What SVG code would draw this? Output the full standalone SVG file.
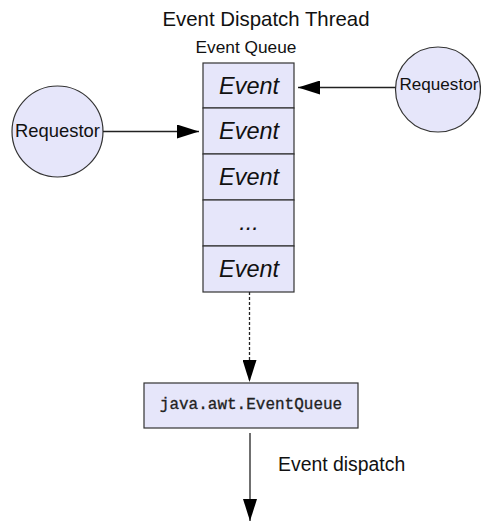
<svg xmlns="http://www.w3.org/2000/svg" width="481" height="521" viewBox="0 0 481 521">
  <style>
    .box { fill: #e6e6fa; stroke: #333; stroke-width: 1.2; }
    .lbl { font-family: "Liberation Sans", Arial, sans-serif; fill: #111; }
    .ev { font-family: "Liberation Sans", Arial, sans-serif; font-style: italic; font-size: 23.5px; fill: #111; text-anchor: middle; }
    .edge { stroke: #222; stroke-width: 1.3; fill: none; }
  </style>
  <defs>
    <marker id="arrow" viewBox="0 0 22 14" refX="22" refY="7" markerWidth="22" markerHeight="14" markerUnits="userSpaceOnUse" orient="auto">
      <path d="M0,0 L22,7 L0,14 Z" fill="#000"/>
    </marker>
  </defs>
  <rect width="481" height="521" fill="#fff"/>

  <text class="lbl" x="266" y="26" font-size="20.4" text-anchor="middle">Event Dispatch Thread</text>
  <text class="lbl" x="246" y="52.5" font-size="17.3" text-anchor="middle">Event Queue</text>

  <g id="event-queue">
    <rect class="box" x="203" y="63" width="91" height="45"/>
    <rect class="box" x="203" y="108" width="91" height="46"/>
    <rect class="box" x="203" y="154" width="91" height="46"/>
    <rect class="box" x="203" y="200" width="91" height="46"/>
    <rect class="box" x="203" y="246" width="91" height="46"/>
    <text class="ev" x="249" y="93.5">Event</text>
    <text class="ev" x="249" y="139">Event</text>
    <text class="ev" x="249" y="185">Event</text>
    <text class="ev" x="249" y="230">...</text>
    <text class="ev" x="249" y="277">Event</text>
  </g>

  <g id="requestor-left">
    <circle class="box" cx="57.5" cy="131.5" r="45.5"/>
    <text class="lbl" x="57.5" y="136.5" font-size="18.4" text-anchor="middle">Requestor</text>
  </g>

  <g id="requestor-right">
    <circle class="box" cx="438" cy="89.5" r="42.5"/>
    <text class="lbl" x="399.5" y="90" font-size="17.1">Requestor</text>
  </g>

  <g id="awt-event-queue">
    <rect class="box" x="144" y="383" width="214" height="45"/>
    <text x="251" y="409" font-family="'Liberation Mono', 'Courier New', monospace" font-size="16" fill="#222" stroke="#222" stroke-width="0.3" text-anchor="middle">java.awt.EventQueue</text>
  </g>

  <text class="lbl" x="278" y="470.5" font-size="19.4">Event dispatch</text>

  <g id="connectors">
    <line class="edge" x1="103" y1="131.5" x2="199" y2="131.5" marker-end="url(#arrow)"/>
    <line class="edge" x1="395.5" y1="87.5" x2="298" y2="87.5" marker-end="url(#arrow)"/>
    <line class="edge" x1="249.5" y1="292" x2="249.5" y2="382" stroke-dasharray="3,2" marker-end="url(#arrow)"/>
    <line class="edge" x1="250" y1="433" x2="250" y2="521" marker-end="url(#arrow)"/>
  </g>
</svg>
